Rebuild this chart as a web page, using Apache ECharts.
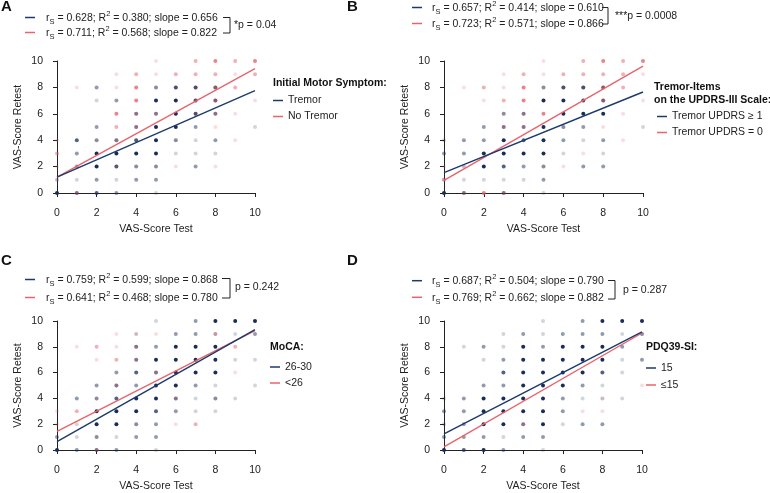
<!DOCTYPE html>
<html>
<head>
<meta charset="utf-8">
<script src="https://cdn.jsdelivr.net/npm/echarts@6/dist/echarts.min.js"></script>
<style>
html, body { margin: 0; padding: 0; background: #fff; }
#main { width: 770px; height: 493px; }
</style>
</head>
<body>
<div id="main"></div>
<script>
// dots: [x, y, weight]  weight 1..4 = how dense the dot looks
var aBlue = [
  [2,8,2],[5,8,2],[6,8,3],[7,8,3],[8,8,2],
  [2,7,1],[3,7,2],[5,7,4],[6,7,4],[7,7,3],[8,7,2],
  [4,6,2],[5,6,2],[6,6,4],[7,6,3],[8,6,2],
  [2,5,2],[4,5,2],[5,5,4],[6,5,4],[7,5,2],[10,5,1],
  [1,4,3],[2,4,2],[3,4,2],[4,4,3],[5,4,4],[6,4,2],[7,4,1],[8,4,2],
  [1,3,2],[2,3,4],[3,3,4],[4,3,4],[5,3,4],[6,3,1],[7,3,1],[8,3,1],
  [1,2,2],[2,2,4],[3,2,3],[4,2,2],[5,2,2],[7,2,2],
  [0,1,1],[1,1,1],[2,1,2],[3,1,1],[4,1,2],[5,1,2],
  [0,0,4],[1,0,2],[2,0,3],[3,0,2],[5,0,1]
];
var aRed = [
  [5,10,1],[7,10,2],[8,10,3],[9,10,2],[10,10,3],
  [3,9,1],[4,9,2],[5,9,1],[6,9,2],[7,9,2],[8,9,2],[9,9,1],[10,9,2],
  [1,8,1],[3,8,1],[4,8,3],[5,8,1],[6,8,2],[7,8,2],[8,8,3],[9,8,2],
  [4,7,3],[7,7,2],[8,7,3],[10,7,1],
  [3,6,3],[4,6,2],[5,6,2],[6,6,1],[7,6,2],[8,6,2],[9,6,1],
  [3,5,2],[4,5,2],[8,5,1],
  [0,4,1],[2,4,1],[3,4,2],[4,4,1],[6,4,1],[9,4,1],
  [0,3,2],
  [0,2,1],[3,2,1],[4,2,1],[5,2,1],[6,2,1],[8,2,1],
  [0,1,1],
  [1,0,2]
];
var bBlue = [
  [5,8,2],[6,8,3],[7,8,3],[8,8,2],
  [5,7,4],[6,7,4],[7,7,3],[8,7,2],
  [3,6,2],[4,6,2],[6,6,4],[7,6,4],[8,6,4],
  [2,5,2],[3,5,2],[4,5,2],[5,5,4],[6,5,2],[7,5,2],[10,5,1],
  [0,4,1],[1,4,2],[2,4,2],[3,4,4],[4,4,3],[5,4,4],[6,4,2],[7,4,1],[8,4,2],
  [0,3,2],[1,3,2],[2,3,4],[3,3,4],[4,3,4],[5,3,4],[6,3,1],[8,3,1],
  [1,2,1],[2,2,4],[3,2,3],[4,2,2],[5,2,2],[7,2,2],[8,2,2],
  [0,1,1],[1,1,1],[2,1,1],[3,1,1],[4,1,1],[5,1,2],
  [0,0,4],[1,0,2],[3,0,2],[5,0,1]
];
var bRed = [
  [5,10,1],[7,10,2],[8,10,3],[9,10,2],[10,10,3],
  [3,9,1],[4,9,2],[5,9,1],[6,9,2],[7,9,2],[8,9,2],[9,9,2],[10,9,1],
  [1,8,1],[2,8,2],[3,8,1],[4,8,3],[5,8,1],[6,8,2],[7,8,2],[8,8,3],[9,8,2],
  [2,7,1],[3,7,2],[4,7,3],[5,7,1],[7,7,2],[8,7,3],[10,7,1],
  [3,6,1],[4,6,2],[5,6,3],[9,6,1],
  [3,5,2],[4,5,2],[6,5,1],[8,5,1],
  [9,4,1],
  [7,3,1],
  [0,2,1],[1,2,1],[5,2,1],[6,2,1],
  [0,1,2],
  [1,0,2],[2,0,3],[3,0,2]
];
var cBlue = [
  [5,10,1],[7,10,2],[8,10,4],[9,10,4],[10,10,4],
  [4,9,1],[6,9,2],[7,9,2],[8,9,1],[9,9,1],[10,9,2],
  [4,8,2],[5,8,2],[6,8,4],[7,8,4],[8,8,4],
  [4,7,2],[5,7,4],[6,7,4],[7,7,4],[8,7,4],[9,7,1],[10,7,1],
  [3,6,2],[4,6,3],[5,6,2],[6,6,4],[7,6,4],[8,6,4],
  [2,5,2],[3,5,2],[4,5,2],[5,5,4],[6,5,4],[7,5,2],[8,5,1],[10,5,1],
  [1,4,2],[2,4,2],[3,4,3],[4,4,4],[5,4,4],[6,4,2],[7,4,1],[8,4,2],[9,4,1],
  [2,3,4],[3,3,4],[4,3,4],[5,3,3],[6,3,2],[7,3,1],[8,3,1],
  [1,2,1],[2,2,4],[3,2,4],[4,2,2],[5,2,2],
  [0,1,2],[1,1,1],[2,1,2],[3,1,1],[4,1,2],[5,1,2],
  [0,0,4],[1,0,2],[2,0,2],[3,0,2],[5,0,1]
];
var cRed = [
  [3,9,1],[4,9,1],[5,9,1],[8,9,2],
  [1,8,1],[2,8,2],[3,8,1],[4,8,2],[9,8,2],
  [2,7,1],[3,7,2],[4,7,2],
  [5,6,2],[9,6,1],
  [3,5,2],
  [2,4,1],[6,4,2],[8,4,1],
  [0,3,1],[1,3,2],
  [0,2,1],[4,2,1],[6,2,1],[7,2,2],
  [2,1,1],
  [2,0,2]
];
var dBlue = [
  [5,10,1],[7,10,2],[8,10,4],[9,10,4],[10,10,4],
  [3,9,1],[4,9,2],[5,9,1],[6,9,2],[7,9,2],[8,9,2],[9,9,1],[10,9,2],
  [1,8,1],[2,8,2],[3,8,1],[4,8,4],[5,8,2],[6,8,4],[7,8,4],[8,8,4],[9,8,2],
  [2,7,1],[3,7,2],[4,7,4],[5,7,4],[6,7,4],[7,7,4],[8,7,4],[9,7,1],[10,7,2],
  [3,6,3],[4,6,4],[5,6,4],[6,6,4],[7,6,4],[8,6,3],[9,6,1],
  [2,5,2],[3,5,2],[4,5,4],[5,5,4],[6,5,4],[7,5,2],[8,5,1],
  [0,4,1],[1,4,2],[2,4,4],[3,4,4],[4,4,4],[5,4,4],[6,4,2],[7,4,1],[8,4,1],[9,4,1],
  [0,3,2],[1,3,2],[2,3,4],[3,3,4],[4,3,4],[5,3,4],[6,3,2],
  [0,2,1],[1,2,2],[2,2,4],[3,2,4],[4,2,2],[5,2,4],[6,2,1],[7,2,2],[8,2,2],
  [0,1,2],[1,1,2],[2,1,2],[3,1,1],[4,1,2],[5,1,2],
  [0,0,4],[1,0,3],[2,0,4],[3,0,2],[5,0,1]
];
var dRed = [
  [10,9,1],[10,5,1],[8,4,1],[7,3,1],[8,3,1],[4,2,2]
];

// regression lines, end points
var aBlueFit = [[0,1.2],[10,7.76]];
var aRedFit  = [[0,1.2],[10,9.42]];
var bBlueFit = [[0,1.55],[10,7.65]];
var bRedFit  = [[0,0.95],[10,9.61]];
var cBlueFit = [[0,0.65],[10,9.33]];
var cRedFit  = [[0,1.45],[10,9.25]];
var dBlueFit = [[0,1.25],[10,9.15]];
var dRedFit  = [[0,0.25],[10,9.07]];

// stats: [rS, R2, slope]
var aStats = [['0.628','0.380','0.656'],['0.711','0.568','0.822']];
var bStats = [['0.657','0.414','0.610'],['0.723','0.571','0.866']];
var cStats = [['0.759','0.599','0.868'],['0.641','0.468','0.780']];
var dStats = [['0.687','0.504','0.790'],['0.769','0.662','0.882']];
var pTexts = ['*p = 0.04', '***p = 0.0008', 'p = 0.242', 'p = 0.287'];

var groupNames = [['Tremor','No Tremor'],['Tremor UPDRS \u2265 1','Tremor UPDRS = 0'],['26-30','<26'],['15','\u226415']];
var legendTitles = [['Initial Motor Symptom:'],['Tremor-Items','on the UPDRS-III Scale:'],['MoCA:'],['PDQ39-SI:']];

var FONT = '"Liberation Sans", Arial, sans-serif';
var BLUE = '#1c3a6b';
var RED = '#e8646c';
var DOT_BLUE = '#1a2d58';
var DOT_RED = '#e25a68';
var INK = '#222';
var OPAC = [0, 0.2, 0.48, 0.75, 1];

var panels = [
  {letter:'A', blue:aBlue, red:aRed, bFit:aBlueFit, rFit:aRedFit, stats:aStats,
   grid:{left:57, top:61, width:198, height:132},
   letterPos:[1,7], mark:[25,17.5,15], textX:46, br:[223,230,17.5,33], pPos:[234,25],
   leg:[273,95], gap:5, head:[273,83]},
  {letter:'B', blue:bBlue, red:bRed, bFit:bBlueFit, rFit:bRedFit, stats:bStats,
   grid:{left:444, top:61, width:199, height:132},
   letterPos:[347,7], mark:[412,7.5,16], textX:432, br:[602,608,7.5,24], pPos:[615,16.5],
   leg:[657,111], gap:5, head:[654,86.7]},
  {letter:'C', blue:cBlue, red:cRed, bFit:cBlueFit, rFit:cRedFit, stats:cStats,
   grid:{left:57, top:321, width:198, height:132},
   letterPos:[1,261], mark:[25,279.5,18], textX:46, br:[222,230,278.5,298], pPos:[235,287.5],
   leg:[270,361.5], gap:5, head:[270,347]},
  {letter:'D', blue:dBlue, red:dRed, bFit:dBlueFit, rFit:dRedFit, stats:dStats,
   grid:{left:444, top:321, width:198, height:132},
   letterPos:[347,261], mark:[412,280.7,16.6], textX:432, br:[608,615,280.5,299], pPos:[623,290],
   leg:[646,362.5], gap:6, head:[646,347]}
];

function dots(arr) {
  return arr.map(function (d) {
    return {value:[d[0], d[1]], itemStyle:{opacity:OPAC[d[2]]}};
  });
}

var grid = [], xAxis = [], yAxis = [], series = [], legend = [], graphic = [];

panels.forEach(function (p, i) {
  grid.push(p.grid);
  xAxis.push({
    gridIndex:i, type:'value', min:0, max:10, interval:2, offset:10,
    axisLine:{show:true, lineStyle:{color:INK, width:1}},
    axisTick:{show:true, length:4, lineStyle:{color:INK}},
    splitLine:{show:false},
    axisLabel:{color:INK, fontSize:10.5, fontFamily:FONT, margin:5},
    name:'VAS-Score Test', nameLocation:'middle', nameGap:21,
    nameTextStyle:{color:INK, fontSize:10.5, fontFamily:FONT}
  });
  yAxis.push({
    gridIndex:i, type:'value', min:0, max:10, interval:2, offset:6,
    axisLine:{show:true, lineStyle:{color:INK, width:1}},
    axisTick:{show:true, length:4, lineStyle:{color:INK}},
    splitLine:{show:false},
    axisLabel:{color:INK, fontSize:10.5, fontFamily:FONT, margin:8},
    name:'VAS-Score Retest', nameLocation:'middle', nameGap:27,
    nameTextStyle:{color:INK, fontSize:10.5, fontFamily:FONT}
  });
  series.push({
    name:p.letter + ' dots red', type:'scatter', xAxisIndex:i, yAxisIndex:i,
    symbolSize:4, clip:false, itemStyle:{color:DOT_RED}, data:dots(p.red), z:2
  });
  series.push({
    name:p.letter + ' dots blue', type:'scatter', xAxisIndex:i, yAxisIndex:i,
    symbolSize:4, clip:false, itemStyle:{color:DOT_BLUE}, data:dots(p.blue), z:3
  });
  series.push({
    name:groupNames[i][1], type:'line', xAxisIndex:i, yAxisIndex:i,
    symbol:'none', clip:false, color:RED, lineStyle:{color:RED, width:1.4}, data:p.rFit, z:4
  });
  series.push({
    name:groupNames[i][0], type:'line', xAxisIndex:i, yAxisIndex:i,
    symbol:'none', clip:false, color:BLUE, lineStyle:{color:BLUE, width:1.4}, data:p.bFit, z:5
  });
  legend.push({
    data:groupNames[i], orient:'vertical', left:p.leg[0], top:p.leg[1], padding:0,
    icon:'rect', itemWidth:10, itemHeight:1.5, itemGap:p.gap, selectedMode:false,
    textStyle:{color:INK, fontSize:10.5, fontFamily:FONT}
  });

  // panel letter
  graphic.push({type:'text', x:p.letterPos[0], y:p.letterPos[1],
    style:{text:p.letter, fontSize:15, fontWeight:'bold', fontFamily:FONT, fill:'#111', verticalAlign:'middle'}});
  // legend heading
  legendTitles[i].forEach(function (t, k) {
    graphic.push({type:'text', x:p.head[0], y:p.head[1] + k * 13.3,
      style:{text:t, fontSize:10.5, fontWeight:'bold', fontFamily:FONT, fill:'#111', verticalAlign:'middle'}});
  });
  // stats lines
  [BLUE, RED].forEach(function (c, k) {
    var y = p.mark[1] + k * p.mark[2];
    var s = p.stats[k];
    graphic.push({type:'line', shape:{x1:p.mark[0], y1:y, x2:p.mark[0] + 10, y2:y},
      style:{stroke:c, lineWidth:1.5}});
    graphic.push({type:'text', x:p.textX, y:y + 0.5,
      style:{
        text:'{n|r}{s|S}{n| = ' + s[0] + '; R}{p|2}{n| = ' + s[1] + '; slope = ' + s[2] + '}',
        fontFamily:FONT, fill:INK, verticalAlign:'middle',
        rich:{
          n:{fontSize:10.5, fontFamily:FONT, fill:INK, lineHeight:16},
          s:{fontSize:7.5, fontFamily:FONT, fill:INK, lineHeight:7, verticalAlign:'bottom'},
          p:{fontSize:7.5, fontFamily:FONT, fill:INK, lineHeight:7, verticalAlign:'top'}
        }
      }});
  });
  graphic.push({type:'polyline',
    shape:{points:[[p.br[0], p.br[2]], [p.br[1], p.br[2]], [p.br[1], p.br[3]], [p.br[0], p.br[3]]]},
    style:{stroke:INK, fill:null, lineWidth:1}});
  graphic.push({type:'text', x:p.pPos[0], y:p.pPos[1],
    style:{text:pTexts[i], fontSize:10.5, fontFamily:FONT, fill:INK, verticalAlign:'middle'}});
});

var myChart = echarts.init(document.getElementById('main'));
myChart.setOption({
  animation:false,
  textStyle:{fontFamily:FONT},
  grid:grid,
  xAxis:xAxis,
  yAxis:yAxis,
  legend:legend,
  series:series,
  graphic:graphic
});
window.onresize = function () { myChart.resize(); };
</script>
</body>
</html>
